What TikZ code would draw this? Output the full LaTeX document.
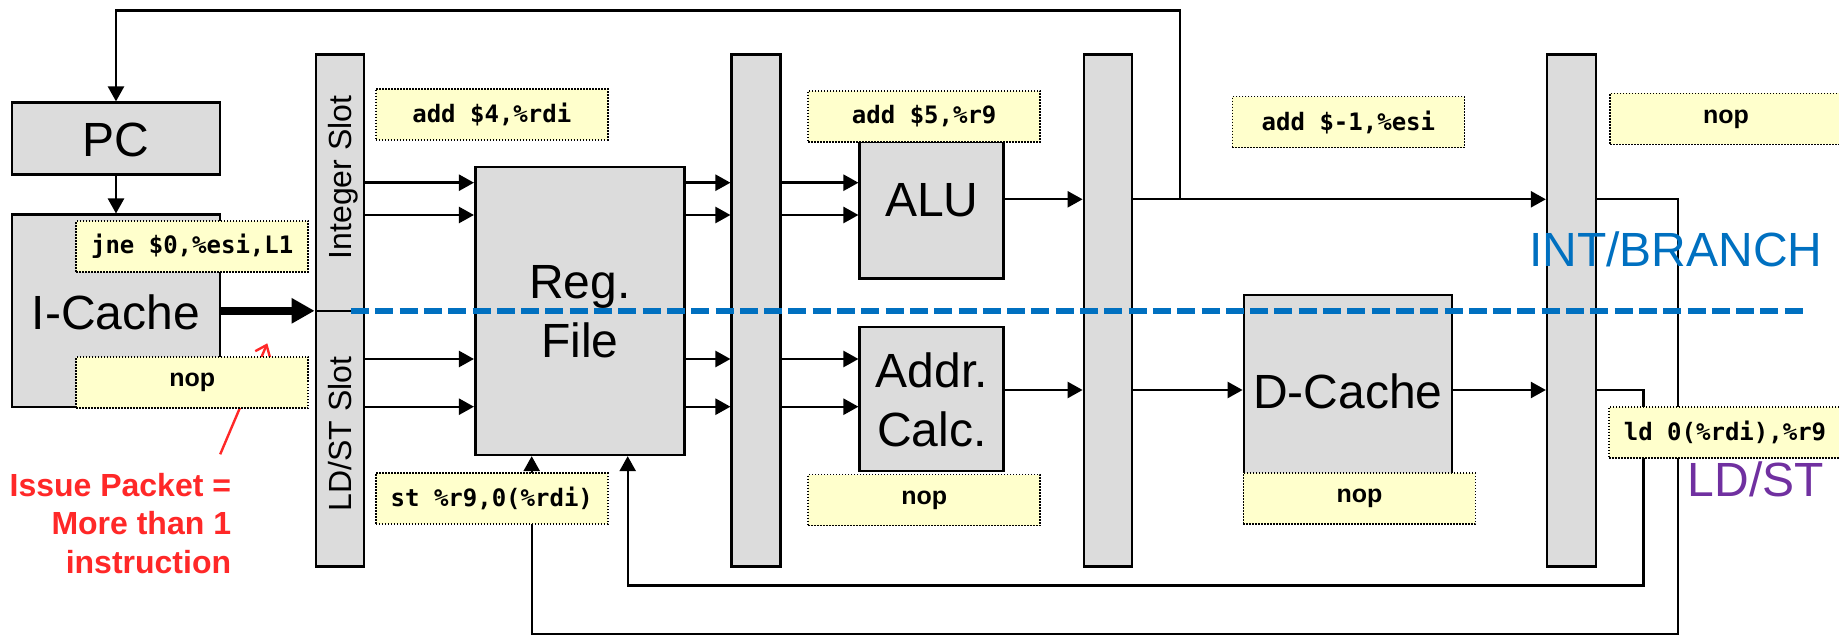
\documentclass[tikz,border=0pt]{standalone}
\usepackage{fontspec}
\setmainfont{Liberation Sans}
\newfontfamily\codefont{DejaVu Sans Mono}
\usetikzlibrary{arrows.meta}

\definecolor{unitgray}{HTML}{DCDCDC}
\definecolor{instrfill}{HTML}{FFFFCC}
\definecolor{intblue}{HTML}{0070C0}
\definecolor{ldpurple}{HTML}{7030A0}
\definecolor{notered}{HTML}{FF2828}

\tikzset{
  unit/.style={draw=black, line width=2.6pt, fill=unitgray, inner sep=0pt},
  big/.style={font=\fontsize{48}{59}\selectfont, inner sep=0pt, align=center},
  slotlab/.style={font=\fontsize{32}{38}\selectfont, inner sep=0pt, rotate=90, anchor=base},
  instr/.style={draw=black, line width=1.5pt, dash pattern=on 1.5pt off 1.5pt,
    fill=instrfill, minimum width=232pt, minimum height=51pt, inner sep=0pt,
    font=\codefont\bfseries\fontsize{24}{28}\selectfont},
  nopbox/.style={instr, font=\bfseries\fontsize{25}{30}\selectfont},
  wire/.style={line width=2.4pt, -{Triangle[length=15pt,width=16pt]}},
  fatwire/.style={line width=8pt, -{Triangle[length=23pt,width=24pt]}},
}

\begin{document}
\begin{tikzpicture}[x=1pt, y=-1pt]
\useasboundingbox (0,0) rectangle (1839,636);

% ---- functional units and pipeline latches ----
\node[unit, minimum width=208pt, minimum height=72pt]  (pc)    at (116,138.7)   {};
\node[unit, minimum width=208pt, minimum height=192pt] (ic)    at (116,310.8)   {};
\node[unit, minimum width=48pt, minimum height=256.7pt] (slotI) at (339.9,182.65) {};
\node[unit, minimum width=48pt, minimum height=255.7pt] (slotL) at (339.9,438.85) {};
\node[unit, minimum width=209pt, minimum height=288pt] (rf)    at (579.75,310.85) {};
\node[unit, minimum width=48.5pt, minimum height=512pt] (l2)   at (756,310.5)   {};
\node[unit, minimum width=144pt, minimum height=137pt] (alu)   at (931.75,210.2) {};
\node[unit, minimum width=144pt, minimum height=144pt] (addr)  at (931.75,398.85) {};
\node[unit, minimum width=48pt, minimum height=512pt]  (l3)    at (1107.9,310.5) {};
\node[unit, minimum width=208pt, minimum height=193pt] (dc)    at (1347.9,391.5) {};
\node[unit, minimum width=49pt, minimum height=512pt]  (l4)    at (1571.65,310.5) {};

% ---- unit names ----
\node[big, anchor=base] (pcT)   at (116,156.7)    {PC};
\node[big, anchor=base] (icT)   at (116,329)      {I-Cache};
\node[big]              (rfT)   at (579.75,311.5) {Reg.\\File};
\node[big, anchor=base] (aluT)  at (931.75,217)   {ALU};
\node[big]              (addrT) at (931.75,400.3) {Addr.\\Calc.};
\node[big, anchor=base] (dcT)   at (1348,408.3)   {D-Cache};
\node[slotlab] (slotIT) at (351.5,177.5) {Integer Slot};
\node[slotlab] (slotLT) at (351.5,434)   {LD/ST Slot};

% ---- fetch ----
\coordinate (tap)  at (1180,199.3);
\coordinate (topR) at (1180,10.7);
\draw[wire] (tap) -- (topR) -- (pc.north |- topR) -- (pc.north);
\draw[wire] (pc.south) -- (ic.north);
\draw[fatwire] (ic.east) -- (slotI.west |- ic.east);

% ---- issue slots to register file to execute ----
\foreach \yy in {182.7,215,359,406.7} {
  \draw[wire] (slotI.east |- 0,\yy) -- (rf.west |- 0,\yy);
  \draw[wire] (rf.east |- 0,\yy) -- (l2.west |- 0,\yy);
}
\foreach \yy in {182.7,215} \draw[wire] (l2.east |- 0,\yy) -- (alu.west |- 0,\yy);
\foreach \yy in {359,406.7} \draw[wire] (l2.east |- 0,\yy) -- (addr.west |- 0,\yy);

\draw[wire] (alu.east |- tap) -- (l3.west |- tap);
\draw[wire] (l3.east |- tap) -- (l4.west |- tap);
\draw[wire] (addr.east |- 0,390) -- (l3.west |- 0,390);
\draw[wire] (l3.east |- 0,390) -- (dc.west |- 0,390);
\draw[wire] (dc.east |- 0,390) -- (l4.west |- 0,390);

% ---- write-back paths ----
\coordinate (intA) at (1678,199.3);
\coordinate (intB) at (1678,634);
\coordinate (intC) at (531.7,634);
\draw[wire] (l4.east |- intA) -- (intA) -- (intB) -- (intC) -- (rf.south -| intC);
\coordinate (ldA) at (1643.3,390);
\coordinate (ldB) at (1643.3,585.3);
\coordinate (ldC) at (627.7,585.3);
\draw[wire] (l4.east |- ldA) -- (ldA) -- (ldB) -- (ldC) -- (rf.south -| ldC);

% ---- issue packet note ----
\node[font=\bfseries\fontsize{32}{38.5}\selectfont, text=notered, align=right,
      anchor=north east, inner sep=0pt] (note) at (231.3,472.8)
      {Issue Packet =\\More than 1\\instruction};
\coordinate (noteTail) at (220.2,454.3);
\coordinate (noteTip)  at (267.3,343.3);
\draw[notered, line width=2.4pt, -{Straight Barb[length=10pt,width=16pt]}] (noteTail) -- (noteTip);

% ---- instructions in flight ----
\node[instr]  (iJne)  at (192.2,246.5)  {jne \$0,\%esi,L1};
\node[nopbox] (iNopA) at (192.2,382.5)  {nop};
\node[instr]  (iAdd4) at (491.8,114.5)  {add \$4,\%rdi};
\node[instr]  (iSt)   at (491.8,498.7)  {st \%r9,0(\%rdi)};
\node[instr]  (iAdd5) at (924.2,116.3)  {add \$5,\%r9};
\node[nopbox] (iNopB) at (924.2,500)    {nop};
\node[instr]  (iAddM) at (1348.4,122.2) {add \$-1,\%esi};
\node[nopbox] (iNopC) at (1359.4,498.5) {nop};
\node[nopbox] (iNopD) at (1726,119)     {nop};
\node[instr]  (iLd)   at (1725,432.3)   {ld 0(\%rdi),\%r9};

% ---- pipe split ----
\coordinate (divL) at (351,311);
\coordinate (divR) at (1803,311);
\draw[intblue, line width=6pt, dash pattern=on 18pt off 6.3pt] (divL) -- (divR);

\node[font=\fontsize{48}{58}\selectfont, text=intblue, anchor=base west, inner sep=0pt]
  (intT) at (1529,266.7) {INT/BRANCH};
\node[font=\fontsize{48}{58}\selectfont, text=ldpurple, anchor=base west, inner sep=0pt]
  (ldT) at (1687.5,496) {LD/ST};
\end{tikzpicture}
\end{document}
